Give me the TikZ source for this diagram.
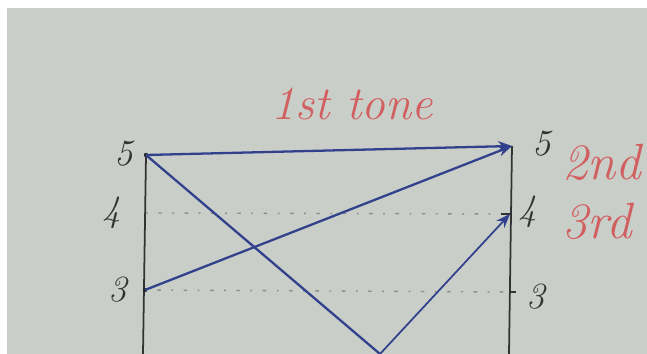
\documentclass[tikz,border=0pt]{standalone}
\usepackage{tikz}
\usetikzlibrary{positioning,arrows.meta}
\definecolor{boardgrey}{RGB}{201,206,201}
\definecolor{inkblue}{RGB}{50,65,140}
\definecolor{markerred}{RGB}{210,95,95}

\begin{document}
\begin{tikzpicture}[x=0.02cm,y=-0.02cm,
        num/.style={font=\fontsize{21}{24}\selectfont\itshape, text=black!80, inner sep=1pt},
        tone/.style={font=\fontsize{27}{30}\selectfont\itshape, text=markerred, inner sep=0pt},
        arr/.style={-{Stealth[length=8pt,width=6pt]}, line width=1.3pt, inkblue},
        axis/.style={line width=1pt, black!80},
        level/.style={line width=0.8pt, dash pattern=on 1pt off 6pt on 2pt off 6pt, black!45}
    ]
    \useasboundingbox (0,0) rectangle (647,354);
    \clip (0,0) rectangle (647,354);
    \fill[boardgrey] (7,8) rectangle (647,354);
    \coordinate (l5) at (146,155);
    \coordinate (l4) at (146,213);
    \coordinate (l3) at (145,290);
    \coordinate (lb) at (143,354);
    \coordinate (r5) at (512,146);
    \coordinate (r4) at (510,214);
    \coordinate (r3) at (510,292);
    \coordinate (rb) at (509,354);
    \coordinate (low) at (380,354);
    \draw[axis] (l5) -- (lb);
    \draw[axis] (r5) -- (rb);
    \draw[level] (l4) -- (r4);
    \draw[level] (l3) -- (r3);
    \draw[axis] (r4) -- ++(-9,0);
    \draw[axis] (r3) -- ++(6,0);
    \fill[black!85] (l5) circle (2.2);
    \fill[black!85] (l3) circle (2.2);
    \node[num] (n5l) at (124,154) {5};
    \node[num] (n4l) at (112,213) {4};
    \node[num] (n3l) at (118,290) {3};
    \node[num] (n5r) at (542,144) {5};
    \node[num] (n4r) at (528,212) {4};
    \node[num] (n3r) at (536,297) {3};
    \node[tone] (first) at (352,104) {1st tone};
    \node[tone, font=\fontsize{29}{32}\selectfont\itshape, anchor=west] (second) at (562,162) {2nd};
    \node[tone, font=\fontsize{29}{32}\selectfont\itshape, anchor=west] (third) at (562,221) {3rd};
    \draw[arr] (l5) -- (r5);
    \draw[arr] (l3) -- (r5);
    \draw[line width=1.3pt, inkblue] (l5) -- (low);
    \draw[arr, line width=1pt] (low) -- (r4);
\end{tikzpicture}
\end{document}
